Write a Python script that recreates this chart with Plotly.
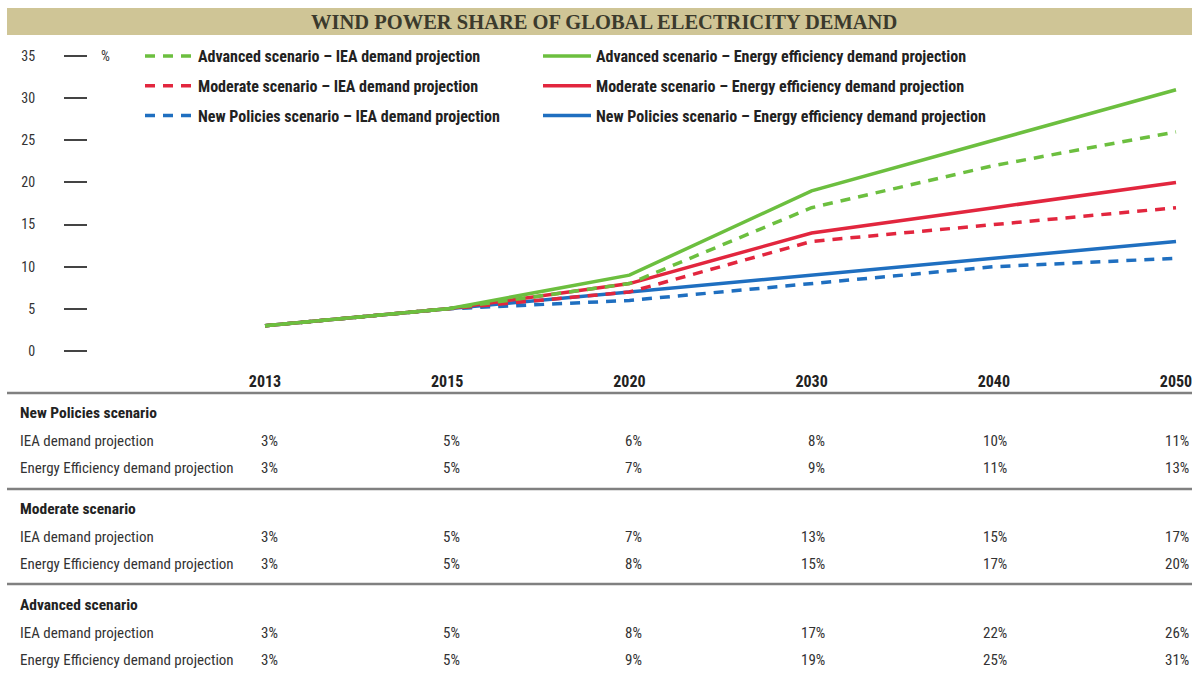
import plotly.graph_objects as go

# ---- data ----
years = ["2013", "2015", "2020", "2030", "2040", "2050"]
# values printed in the table
np_iea = [3, 5, 6, 8, 10, 11]
np_ee = [3, 5, 7, 9, 11, 13]
mod_iea = [3, 5, 7, 13, 15, 17]
mod_ee = [3, 5, 8, 15, 17, 20]
adv_iea = [3, 5, 8, 17, 22, 26]
adv_ee = [3, 5, 9, 19, 25, 31]
# value drawn by the chart line (the plotted 2030 point sits at ~14)
mod_ee_line = [3, 5, 8, 14, 17, 20]
y_ticks = [0, 5, 10, 15, 20, 25, 30, 35]

title_text = "WIND POWER SHARE OF GLOBAL ELECTRICITY DEMAND"
table_groups = ["New Policies scenario", "Moderate scenario", "Advanced scenario"]
row_labels = ["IEA demand projection", "Energy Efficiency demand projection"]

# ---- style ----
GREEN = "#6cbf3f"
RED = "#e2263e"
BLUE = "#1f6fc0"
TXT = "#333333"
NARROW = "Liberation Sans Narrow, Roboto Condensed, DejaVu Sans Condensed, Arial Narrow, sans-serif"
OFF = 0                      # page body margin (removed by post_script)
W, H = 1192, 692
PLOT_L, PLOT_R, PLOT_T, PLOT_B = 88, 1192, 45, 360   # in page pixels
L, R, T, B = PLOT_L - OFF, (OFF + W) - PLOT_R, PLOT_T - OFF, (OFF + H) - PLOT_B
PW, PH = W - L - R, H - T - B
DASH = "10px,8px"


def px_x(px):
    return (px - PLOT_L) / PW


def px_y(py):
    return (PLOT_B - py) / PH


fig = go.Figure()

series = [
    ("New Policies scenario – IEA demand projection", np_iea, BLUE, DASH, "legend", 3),
    ("New Policies scenario – Energy efficiency demand projection", np_ee, BLUE, "solid", "legend2", 3),
    ("Moderate scenario – IEA demand projection", mod_iea, RED, DASH, "legend", 2),
    ("Moderate scenario – Energy efficiency demand projection", mod_ee_line, RED, "solid", "legend2", 2),
    ("Advanced scenario – IEA demand projection", adv_iea, GREEN, DASH, "legend", 1),
    ("Advanced scenario – Energy efficiency demand projection", adv_ee, GREEN, "solid", "legend2", 1),
]
for name, vals, col, dash, leg, rank in series:
    fig.add_trace(go.Scatter(
        x=years, y=vals, mode="lines", name=name,
        line=dict(color=col, width=3.5, dash=dash),
        legend=leg, legendrank=rank, legendgroup=name,
        hoverinfo="x+y+name",
    ))

unit = (351 - 56) / 35.0
y_lo = -(PLOT_B - 351) / unit
y_hi = 35 + (56 - PLOT_T) / unit
first_px, last_px = 265, 1176
cat_w = (last_px - first_px) / 5.0
x_lo = -(first_px - PLOT_L) / cat_w
x_hi = 5 + (PLOT_R - last_px) / cat_w

legend_common = dict(
    orientation="v", xanchor="left", yanchor="top",
    bgcolor="rgba(0,0,0,0)", borderwidth=0, tracegroupgap=6,
    font=dict(family=NARROW, size=16, color="#222222", weight="bold"),
    itemwidth=48, itemclick=False, itemdoubleclick=False,
)

fig.update_layout(
    width=W, height=H,
    margin=dict(l=L, r=R, t=T, b=B),
    paper_bgcolor="white", plot_bgcolor="white",
    showlegend=True,
    legend=dict(x=px_x(140), y=px_y(39), **legend_common),
    legend2=dict(x=px_x(538), y=px_y(39), **legend_common),
    xaxis=dict(
        type="category", categoryorder="array", categoryarray=years,
        range=[x_lo, x_hi], showgrid=False, zeroline=False, showline=False,
        ticks="", ticklabelstandoff=10,
        tickfont=dict(family=NARROW, size=16, color="#222222", weight="bold"),
    ),
    yaxis=dict(
        range=[y_lo, y_hi], tickvals=y_ticks, showgrid=False, zeroline=False,
        showline=False, ticks="outside", ticklen=23, tickwidth=1.5,
        tickcolor="#444444", ticklabelstandoff=26,
        tickfont=dict(family=NARROW, size=14, color=TXT),
    ),
    font=dict(family=NARROW, color=TXT),
)

shapes = []
# title bar
shapes.append(dict(type="rect", xref="paper", yref="paper",
                   x0=px_x(7), x1=px_x(1192), y0=px_y(35), y1=px_y(8),
                   fillcolor="#cfc596", line=dict(width=0), layer="below"))
# separators
for py in [393, 489, 584]:
    shapes.append(dict(type="line", xref="paper", yref="paper",
                       x0=px_x(7), x1=px_x(1192), y0=px_y(py), y1=px_y(py),
                       line=dict(color="#808080", width=2.5)))
fig.update_layout(shapes=shapes)

ann = []
ann.append(dict(text=title_text, xref="paper", yref="paper",
                x=px_x(604), y=px_y(21.5), xanchor="center", yanchor="middle",
                showarrow=False,
                font=dict(family="Liberation Serif, DejaVu Serif, serif", size=20.5,
                          color="#3b3a2c", weight="bold")))
ann.append(dict(text="%", xref="paper", yref="paper", x=px_x(99), y=px_y(56),
                xanchor="left", yanchor="middle", showarrow=False,
                font=dict(family=NARROW, size=14, color=TXT)))

group_data = [(np_iea, np_ee), (mod_iea, mod_ee), (adv_iea, adv_ee)]
group_tops = [413, 509, 605]
for gname, (iea, ee), gy in zip(table_groups, group_data, group_tops):
    ann.append(dict(text=gname, xref="paper", yref="paper", x=px_x(18), y=px_y(gy),
                    xanchor="left", yanchor="middle", showarrow=False,
                    font=dict(family=NARROW, size=15.5, color="#222222", weight="bold")))
    for k, (lab, vals) in enumerate(zip(row_labels, (iea, ee))):
        ry = gy + 28 + 27 * k
        ann.append(dict(text=lab, xref="paper", yref="paper", x=px_x(18), y=px_y(ry),
                        xanchor="left", yanchor="middle", showarrow=False,
                        font=dict(family=NARROW, size=15, color=TXT)))
        for ci, v in enumerate(vals):
            ann.append(dict(text=f"{v}%", xref="x", yref="paper", x=ci, y=px_y(ry),
                            xanchor="right", yanchor="middle", xshift=15, showarrow=False,
                            font=dict(family=NARROW, size=15, color=TXT)))
fig.update_layout(annotations=ann)

fig.write_html("out.html", config={"displayModeBar": False},
               post_script="document.body.style.margin='0px';")
